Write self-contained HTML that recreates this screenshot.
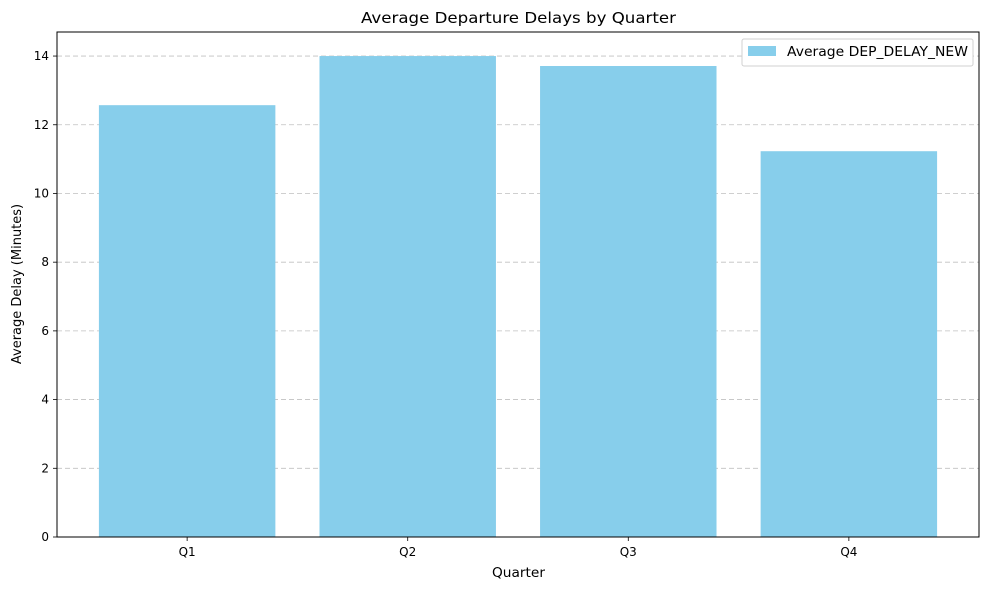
<!DOCTYPE html>
<html><head><meta charset="utf-8"><style>
body{margin:0;background:#fff;font-family:"Liberation Sans","DejaVu Sans",sans-serif;}
svg text{font-family:"DejaVu Sans","Liberation Sans",sans-serif;}
</style></head><body>
<svg id="chart" width="989" height="590" xmlns="http://www.w3.org/2000/svg"></svg>
<script>
const categories = ["Q1","Q2","Q3","Q4"];
const values = [12.57, 14.0, 13.71, 11.23];
const yTicks = [0,2,4,6,8,10,12,14];
const L=57,R=979,T=32,B=537;
const xMin=-0.59,xMax=3.59,yMax=14.7;
const xs=v=>L+(v-xMin)/(xMax-xMin)*(R-L);
const ys=v=>B-v/yMax*(B-T);
const svg=document.getElementById('chart');
const NS='http://www.w3.org/2000/svg';
function mk(tag,attrs,parent){const e=document.createElementNS(NS,tag);for(const k in attrs)e.setAttribute(k,attrs[k]);(parent||svg).appendChild(e);return e;}
yTicks.forEach(t=>{
  const g=mk('line',{x1:L,x2:R,y1:ys(t),y2:ys(t),stroke:'#c0c0c0','stroke-dasharray':'5,3','stroke-width':0.8});
  
  
});
categories.forEach((c,i)=>{
  const x0=xs(i-0.4),x1=xs(i+0.4);
  const b=mk('rect',{x:x0,y:ys(values[i]),width:x1-x0,height:B-ys(values[i]),fill:'#87ceeb'});
  
  
  mk('line',{x1:xs(i),x2:xs(i),y1:B,y2:B+4,stroke:'#000','stroke-width':0.8});
  const t=mk('text',{x:xs(i),y:B+19,'text-anchor':'middle','font-size':12});
  t.textContent=c;
  
  
});
yTicks.forEach(v=>{
  mk('line',{x1:L-4,x2:L,y1:ys(v),y2:ys(v),stroke:'#000','stroke-width':0.8});
  const t=mk('text',{x:L-8,y:ys(v)+4,'text-anchor':'end','font-size':12});
  t.textContent=v;
  
  
});
const ax=mk('rect',{x:L,y:T,width:R-L,height:B-T,fill:'none',stroke:'#000','stroke-width':1});


</script>
<svg style="position:absolute;left:0;top:0" width="989" height="590" xmlns="http://www.w3.org/2000/svg">
<text x="361" y="23" font-size="15" textLength="315" lengthAdjust="spacingAndGlyphs">Average Departure Delays by Quarter</text>
<text x="492" y="577" font-size="13" textLength="53" lengthAdjust="spacingAndGlyphs">Quarter</text>
<text x="21" y="284" text-anchor="middle" font-size="13" transform="rotate(-90 21 284)">Average Delay (Minutes)</text>
<g>
<rect x="742" y="39" width="231" height="27" fill="#fff" stroke="#d0d0d0" rx="2"/>
<rect x="748" y="46" width="28" height="10" fill="#87ceeb"/>
<text x="787" y="56" font-size="13" textLength="181" lengthAdjust="spacingAndGlyphs">Average DEP_DELAY_NEW</text>
</g>
</svg>
</body></html>
